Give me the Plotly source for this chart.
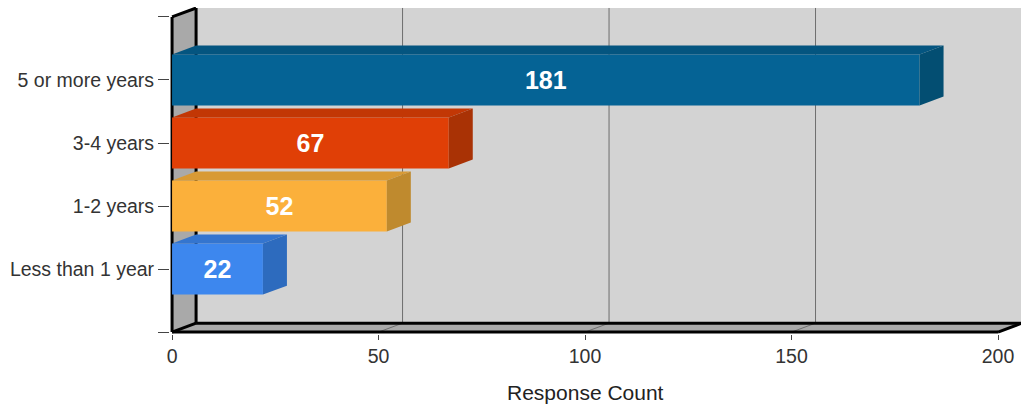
import plotly.graph_objects as go

categories = ["Less than 1 year", "1-2 years", "3-4 years", "5 or more years"]
values = [22, 52, 67, 181]
front_colors = ["#3d87ee", "#fbb03b", "#e03f06", "#056395"]
top_colors = ["#3475cf", "#d89a35", "#c23705", "#045580"]
side_colors = ["#2d6bbe", "#bf8a2e", "#a93205", "#034e72"]
x_ticks = [0, 50, 100, 150, 200]
y_positions = [1, 2, 3, 4]
x_title = "Response Count"

DX = 24 / 4.1275   # depth of the 3-D box in x units
DY = 9 / 63.2      # depth of the 3-D box in y units
BAR = 0.81
YMAX = 5
XMAX = 200
WALL = "#d3d3d3"
SIDE = "#a9a9a9"

fig = go.Figure()

fig.add_trace(go.Bar(
    y=y_positions, x=values, orientation="h", width=BAR,
    marker=dict(color=front_colors, line=dict(width=0)),
    text=[str(v) for v in values], textposition="inside",
    insidetextanchor="middle", textangle=0,
    textfont=dict(family="Liberation Sans, Arial", size=25, color="white", weight="bold"),
    hoverinfo="skip", showlegend=False,
))

for y, v, tc, sc in zip(y_positions, values, top_colors, side_colors):
    t, b = y + BAR / 2, y - BAR / 2
    fig.add_trace(go.Scatter(
        x=[0, DX, v + DX, v, 0], y=[t, t + DY, t + DY, t, t], mode="lines",
        fill="toself", fillcolor=tc, line=dict(width=0), hoverinfo="skip", showlegend=False))
    fig.add_trace(go.Scatter(
        x=[v, v + DX, v + DX, v, v], y=[t, t + DY, b + DY, b, t], mode="lines",
        fill="toself", fillcolor=sc, line=dict(width=0), hoverinfo="skip", showlegend=False))


def poly(xs, ys, color):
    path = "M " + " L ".join(f"{a},{b}" for a, b in zip(xs, ys)) + " Z"
    return dict(type="path", path=path, xref="x", yref="y", fillcolor=color,
                line=dict(width=0), layer="below")


def seg(x0, y0, x1, y1, color="#000000", width=3):
    return dict(type="line", x0=x0, y0=y0, x1=x1, y1=y1, xref="x", yref="y",
                line=dict(color=color, width=width), layer="below")


shapes = [
    poly([DX, XMAX + DX, XMAX + DX, DX], [DY, DY, YMAX + DY, YMAX + DY], WALL),
    poly([0, DX, DX, 0], [0, DY, YMAX + DY, YMAX], SIDE),
    poly([0, XMAX, XMAX + DX, DX], [0, 0, DY, DY], SIDE),
]
for t in x_ticks[1:-1]:
    shapes.append(seg(t + DX, DY, t + DX, YMAX + DY, "#6e6e6e", 1))
    shapes.append(seg(t, 0, t + DX, DY, "#6e6e6e", 1))
shapes += [
    seg(0, 0, 0, YMAX),
    seg(DX, DY, DX, YMAX + DY),
    seg(0, YMAX, DX, YMAX + DY),
    seg(0, 0, DX, DY),
    seg(0, 0, XMAX, 0),
    seg(DX, DY, XMAX + DX, DY),
    seg(XMAX, 0, XMAX + DX, DY),
]

fig.update_layout(
    width=1021, height=408, autosize=False,
    margin=dict(l=170.44, r=0, t=6.6, b=73.5, pad=0),
    paper_bgcolor="white", plot_bgcolor="white",
    font=dict(family="Liberation Sans, Arial", size=20, color="#333333"),
    showlegend=False, shapes=shapes, barmode="overlay",
    xaxis=dict(range=[-0.5, 205.57], tickmode="array", tickvals=x_ticks,
               ticks="outside", ticklen=5, tickcolor="#444444", tickwidth=1,
               tickfont=dict(size=19.5),
               showgrid=False, zeroline=False, showline=False),
    yaxis=dict(range=[-0.03, 5.158], tickmode="array",
               tickvals=[0] + y_positions + [YMAX],
               ticktext=[""] + categories + [""],
               ticks="outside", ticklen=11, tickcolor="#444444", tickwidth=1,
               tickfont=dict(size=19.5),
               showgrid=False, zeroline=False, showline=False),
    annotations=[dict(text=x_title, x=100, xref="x", y=-0.18, yref="paper",
                      showarrow=False, yanchor="middle", font=dict(size=21, color="#222222"))],
)

fig.write_html("out.html", post_script="document.body.style.margin='0';",
               config={"displayModeBar": False})
